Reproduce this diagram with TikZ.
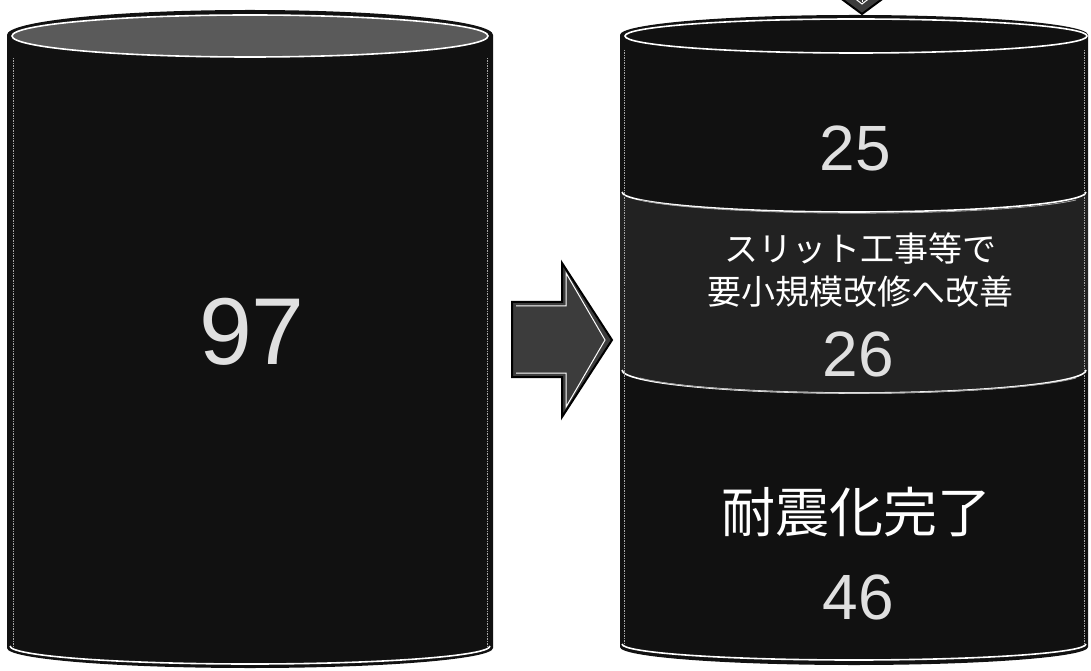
\documentclass[tikz,border=0pt]{standalone}
\usepackage{fontspec}
\newfontfamily\jp{Noto Sans CJK JP}
\newfontfamily\num{Liberation Sans}
\definecolor{cylbody}{HTML}{111111}
\definecolor{cylmid}{HTML}{222222}
\definecolor{lidgrey}{HTML}{5A5A5A}
\definecolor{arrowfill}{HTML}{3C3C3C}
\begin{document}
\begin{tikzpicture}[x=1pt,y=1pt,
  rim/.style={draw=white,line width=1.6pt},
  edge/.style={draw=gray!70,line width=1pt,dash pattern=on 1.5pt off 1pt},
  numtxt/.style={text=white!88!black,font=\num\fontsize{64}{64}\selectfont,inner sep=0pt},
  jptxt/.style={text=white,inner sep=0pt}]
\useasboundingbox (0,0) rectangle (1091,670);
\fill[white] (0,0) rectangle (1091,670);

% ---------- left cylinder ----------
\fill[cylbody] (7,635) -- (7,22) arc[start angle=180,end angle=360,x radius=243,y radius=20]
  -- (493,635) arc[start angle=0,end angle=180,x radius=243,y radius=25] -- cycle;
\fill[lidgrey] (250,634) ellipse[x radius=238,y radius=21];
\draw[rim] (250,634) ellipse[x radius=238,y radius=21];
\draw[edge] (13,612) -- (13,24);
\draw[edge] (487,612) -- (487,24);
\draw[rim] (10,24) arc[start angle=180,end angle=360,x radius=240,y radius=18];
\node[numtxt,font=\num\fontsize{95}{95}\selectfont] (n97) at (252,338) {97};

% ---------- arrow between ----------
\filldraw[fill=arrowfill,draw=black,line width=2pt]
  (512,368) -- (562,368) -- (562,407) -- (612,330) -- (562,253) -- (562,293) -- (512,293) -- cycle;
\draw[white,line width=1pt] (516,364) -- (566,364) -- (566,397) -- (605,330) -- (566,263) -- (566,297) -- (516,297);

% ---------- right cylinder ----------
\begin{scope}
\clip (620,635) -- (620,23) arc[start angle=180,end angle=360,x radius=234,y radius=18]
  -- (1088,635) arc[start angle=0,end angle=180,x radius=234,y radius=20] -- cycle;
\fill[cylbody] (600,0) rectangle (1091,670);
\fill[cylmid] (620,478) arc[start angle=180,end angle=360,x radius=234,y radius=20]
  -- (1088,300) arc[start angle=360,end angle=180,x radius=234,y radius=23] -- cycle;
\end{scope}
\draw[rim] (856,634) ellipse[x radius=231,y radius=17];
\draw[rim] (622,478) arc[start angle=180,end angle=360,x radius=232,y radius=20];
\draw[gray!70,line width=0.8pt] (640,470) arc[start angle=200,end angle=340,x radius=232,y radius=20];
\draw[rim] (622,300) arc[start angle=180,end angle=360,x radius=232,y radius=23];
\draw[gray!70,line width=0.8pt] (640,292) arc[start angle=200,end angle=340,x radius=232,y radius=23];
\draw[edge] (624,620) -- (624,26);
\draw[edge] (1084,620) -- (1084,26);
\draw[rim] (622,26) arc[start angle=180,end angle=360,x radius=232,y radius=16];

\node[numtxt] (n25) at (855,522) {25};
\node[jptxt,align=center,font=\jp\fontsize{34}{43}\selectfont] (slit) at (860,400)
  {スリット工事等で\\要小規模改修へ改善};
\node[numtxt] (n26) at (858,316) {26};
\node[jptxt,font=\jp\fontsize{54}{54}\selectfont] (done) at (856,158) {耐震化完了};
\node[numtxt] (n46) at (858,73) {46};

% ---------- arrow at top (cut off) ----------
\begin{scope}
\clip (0,0) rectangle (1091,670);
\filldraw[fill=arrowfill,draw=black,line width=2pt]
  (844,720) -- (844,690) -- (816,690) -- (862,656) -- (908,690) -- (880,690) -- (880,720) -- cycle;
\draw[white,line width=1pt] (826,694) -- (862,666) -- (898,694);
\draw[white,line width=0.8pt] (862,668) -- (862,700);
\end{scope}
\end{tikzpicture}
\end{document}
